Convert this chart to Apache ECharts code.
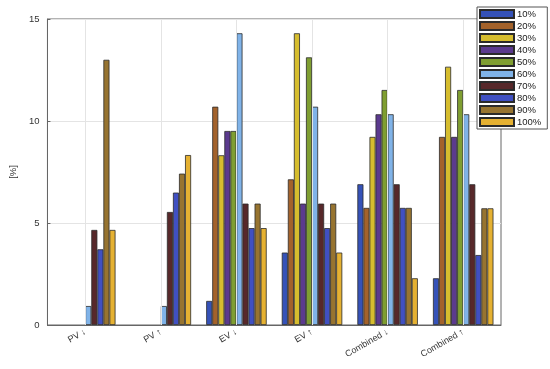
<!DOCTYPE html>
<html>
<head>
<meta charset="utf-8">
<script src="https://cdn.jsdelivr.net/npm/echarts@6/dist/echarts.min.js"></script>
<style>html,body{margin:0;padding:0;background:#fff}#c{width:550px;height:369px}</style>
</head>
<body>
<div id="c"></div>
<script>
const categories = ['PV \u2193', 'PV \u2191', 'EV \u2193', 'EV \u2191', 'Combined \u2193', 'Combined \u2191'];
const seriesNames = ['10%', '20%', '30%', '40%', '50%', '60%', '70%', '80%', '90%', '100%'];
// values per series, one per category
const v10  = [0,    0,    1.18,  3.55,  6.9,   2.29];
const v20  = [0,    0,    10.7,  7.14,  5.74,  9.22];
const v30  = [0,    0,    8.32,  14.3,  9.22,  12.66];
const v40  = [0,    0,    9.51,  5.95,  10.33, 9.22];
const v50  = [0,    0,    9.51,  13.12, 11.52, 11.52];
const v60  = [0.93, 0.93, 14.3,  10.7,  10.33, 10.33];
const v70  = [4.66, 5.54, 5.95,  5.95,  6.9,   6.9];
const v80  = [3.71, 6.49, 4.75,  4.75,  5.74,  3.43];
const v90  = [13.0, 7.42, 5.95,  5.95,  5.74,  5.72];
const v100 = [4.66, 8.33, 4.75,  3.55,  2.29,  5.72];
const yTicks = [0, 5, 10, 15];

const values = [v10, v20, v30, v40, v50, v60, v70, v80, v90, v100];
const colors = ['#3552b8', '#a3622b', '#d6bd2e', '#5b3a8e', '#7f9e31', '#80b3e8', '#57282a', '#4050c2', '#977430', '#e5b132'];

const series = seriesNames.map((n, i) => ({
  name: n,
  type: 'bar',
  data: values[i].map(v => (v === 0 ? '-' : v)),
  barGap: '0%',
  barCategoryGap: '20%',
  z: 3,
  itemStyle: { color: colors[i], borderColor: '#2b2b2b', borderWidth: 0.8 }
}));
series.push({
  name: 'grid',
  type: 'line',
  data: [],
  silent: true,
  z: 1,
  markLine: {
    silent: true,
    symbol: 'none',
    label: { show: false },
    lineStyle: { color: '#e4e4e4', type: 'solid', width: 1 },
    data: categories.map(c => ({ xAxis: c }))
  }
});

const chart = echarts.init(document.getElementById('c'), null, { renderer: 'canvas' });
chart.setOption({
  animation: false,
  backgroundColor: '#fff',
  textStyle: { fontFamily: 'Liberation Sans, Arial, sans-serif' },
  grid: { left: 34, top: 19, right: 49, bottom: 44, show: true, borderColor: '#666', borderWidth: 1, backgroundColor: 'transparent' },
  legend: {
    data: seriesNames,
    orient: 'vertical',
    left: 477,
    top: 7,
    itemWidth: 34,
    itemHeight: 8,
    itemGap: 2,
    padding: [2, 6, 2, 2],
    backgroundColor: '#fff',
    borderColor: '#555',
    borderWidth: 1,
    textStyle: { fontSize: 9.5, color: '#222', lineHeight: 10, padding: [0, 0, 0, -2] },
    icon: 'rect'
  },
  xAxis: {
    type: 'category',
    data: categories,
    axisLine: { show: true, lineStyle: { color: '#666' } },
    axisTick: { show: true, inside: true, alignWithLabel: true, length: 3, lineStyle: { color: '#666' } },
    axisLabel: { rotate: 30, fontSize: 9, color: '#333', margin: 6 },
    splitLine: { show: false }
  },
  yAxis: {
    type: 'value',
    min: 0,
    max: 15,
    interval: 5,
    name: '[%]',
    nameLocation: 'middle',
    nameGap: 21,
    nameTextStyle: { fontSize: 9.5, color: '#333' },
    axisLine: { show: true, lineStyle: { color: '#666' } },
    axisTick: { show: true, inside: true, length: 3, lineStyle: { color: '#666' } },
    axisLabel: { fontSize: 9.5, color: '#333', margin: 8, formatter: v => yTicks.includes(v) ? String(v) : '' },
    splitLine: { show: true, lineStyle: { color: '#e4e4e4' } }
  },
  series: series
});
</script>
</body>
</html>
